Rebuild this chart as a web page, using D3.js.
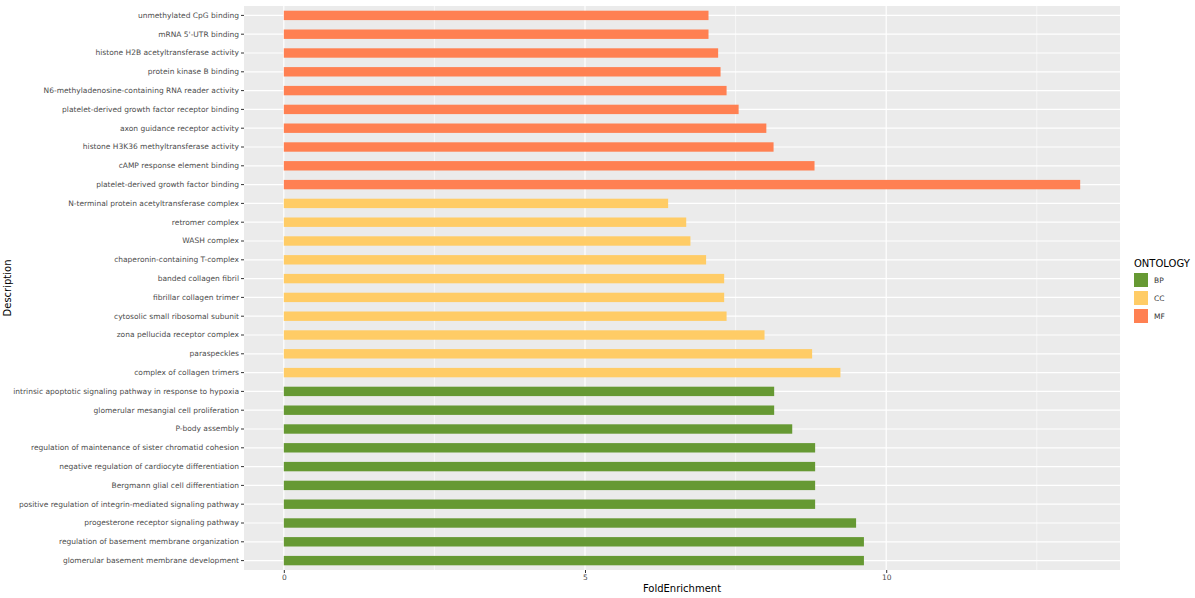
<!DOCTYPE html>
<html lang="en">
<head>
<meta charset="UTF-8">
<script src="https://d3js.org/d3.v7.min.js"></script>
<style>
  body { margin: 0; background: #fff; }
  text { font-family: "DejaVu Sans", sans-serif; }
</style>
</head>
<body>
<svg id="chart" width="1195" height="598"></svg>
<script>
// categories bottom -> top
const descriptions = [
  "glomerular basement membrane development",
  "regulation of basement membrane organization",
  "progesterone receptor signaling pathway",
  "positive regulation of integrin-mediated signaling pathway",
  "Bergmann glial cell differentiation",
  "negative regulation of cardiocyte differentiation",
  "regulation of maintenance of sister chromatid cohesion",
  "P-body assembly",
  "glomerular mesangial cell proliferation",
  "intrinsic apoptotic signaling pathway in response to hypoxia",
  "complex of collagen trimers",
  "paraspeckles",
  "zona pellucida receptor complex",
  "cytosolic small ribosomal subunit",
  "fibrillar collagen trimer",
  "banded collagen fibril",
  "chaperonin-containing T-complex",
  "WASH complex",
  "retromer complex",
  "N-terminal protein acetyltransferase complex",
  "platelet-derived growth factor binding",
  "cAMP response element binding",
  "histone H3K36 methyltransferase activity",
  "axon guidance receptor activity",
  "platelet-derived growth factor receptor binding",
  "N6-methyladenosine-containing RNA reader activity",
  "protein kinase B binding",
  "histone H2B acetyltransferase activity",
  "mRNA 5'-UTR binding",
  "unmethylated CpG binding"
];
const foldEnrichment = [
  9.63, 9.63, 9.5, 8.82, 8.82, 8.82, 8.82, 8.44, 8.14, 8.14,
  9.24, 8.77, 7.98, 7.35, 7.31, 7.31, 7.01, 6.75, 6.68, 6.38,
  13.22, 8.81, 8.13, 8.01, 7.55, 7.35, 7.25, 7.21, 7.05, 7.05
];
const ontology = [
  "BP","BP","BP","BP","BP","BP","BP","BP","BP","BP",
  "CC","CC","CC","CC","CC","CC","CC","CC","CC","CC",
  "MF","MF","MF","MF","MF","MF","MF","MF","MF","MF"
];
const ontologyLevels = ["BP", "CC", "MF"];
const ontologyColors = ["#669933", "#FFCC66", "#FF8052"];
const xTicks = [0, 5, 10];

const data = descriptions.map((d, i) => ({ desc: d, value: foldEnrichment[i], ont: ontology[i] }));

const svg = d3.select("#chart");
const panel = { left: 244, right: 1120, top: 6, bottom: 570 };

const maxV = d3.max(foldEnrichment);
const pad = maxV * 0.05;
const x = d3.scaleLinear().domain([-pad, maxV + pad]).range([panel.left, panel.right]);
const y = d3.scaleBand().domain(descriptions.slice().reverse()).range([panel.top, panel.bottom]).paddingInner(0.5).paddingOuter(0.25);
const color = d3.scaleOrdinal().domain(ontologyLevels).range(ontologyColors);

svg.append("rect").attr("x", panel.left).attr("y", panel.top)
  .attr("width", panel.right - panel.left).attr("height", panel.bottom - panel.top)
  .attr("fill", "#EBEBEB");

// minor grid
[2.5, 7.5, 12.5].forEach(v => {
  svg.append("line").attr("x1", x(v)).attr("x2", x(v)).attr("y1", panel.top).attr("y2", panel.bottom)
    .attr("stroke", "#fff").attr("stroke-width", 0.6);
});
xTicks.forEach(v => {
  svg.append("line").attr("x1", x(v)).attr("x2", x(v)).attr("y1", panel.top).attr("y2", panel.bottom)
    .attr("stroke", "#fff").attr("stroke-width", 1.2);
});
descriptions.forEach(d => {
  const cy = y(d) + y.bandwidth() / 2;
  svg.append("line").attr("x1", panel.left).attr("x2", panel.right).attr("y1", cy).attr("y2", cy)
    .attr("stroke", "#fff").attr("stroke-width", 1.2);
});

svg.selectAll("rect.bar").data(data).enter().append("rect")
  .attr("class", "bar")
  .attr("x", x(0))
  .attr("y", d => y(d.desc))
  .attr("width", d => x(d.value) - x(0))
  .attr("height", y.bandwidth())
  .attr("fill", d => color(d.ont));

// y axis
const yAxis = svg.append("g").attr("transform", `translate(${panel.left},0)`)
  .call(d3.axisLeft(y).tickSize(3).tickPadding(2));
yAxis.select(".domain").remove();
yAxis.selectAll("line").attr("stroke", "#333");
yAxis.selectAll("text").attr("font-size", 7.5).attr("fill", "#4D4D4D");

// x axis
const xAxis = svg.append("g").attr("transform", `translate(0,${panel.bottom})`)
  .call(d3.axisBottom(x).tickValues(xTicks).tickSize(3).tickPadding(2));
xAxis.select(".domain").remove();
xAxis.selectAll("line").attr("stroke", "#333");
xAxis.selectAll("text").attr("font-size", 7.5).attr("fill", "#4D4D4D");

svg.append("text").attr("x", (panel.left + panel.right) / 2).attr("y", 592)
  .attr("text-anchor", "middle").attr("font-size", 10).text("FoldEnrichment");
svg.append("text").attr("transform", `translate(11,${(panel.top + panel.bottom) / 2}) rotate(-90)`)
  .attr("text-anchor", "middle").attr("font-size", 10).text("Description");

// legend
const lg = svg.append("g").attr("transform", "translate(1134,258)");
lg.append("text").attr("x", 0).attr("y", 9).attr("font-size", 10).text("ONTOLOGY");
ontologyLevels.forEach((o, i) => {
  lg.append("rect").attr("x", 0).attr("y", 15 + i * 18).attr("width", 14).attr("height", 14).attr("fill", color(o));
  lg.append("text").attr("x", 20).attr("y", 25 + i * 18).attr("font-size", 7.5).attr("fill", "#333").text(o);
});
</script>
</body>
</html>
